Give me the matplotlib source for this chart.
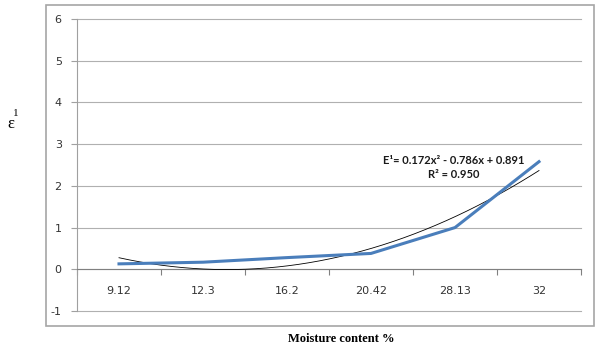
import numpy as np
import matplotlib
matplotlib.use("Agg")
import matplotlib.pyplot as plt
from matplotlib.patches import Rectangle

plt.rcParams["axes.unicode_minus"] = False

# ---- data ----
categories = ["9.12", "12.3", "16.2", "20.42", "28.13", "32"]
eps_values = [0.13, 0.17, 0.28, 0.38, 1.00, 2.58]
# Excel polynomial trendline (x = category index 1..6)
trend_coef = [0.172, -0.786, 0.891]
eq_text = "E\u00b9= 0.172x\u00b2 - 0.786x + 0.891"
r2_text = "R\u00b2 = 0.950"

W, H = 600, 349
fig = plt.figure(figsize=(W / 100, H / 100), dpi=100)

# outer chart frame
fig.patches.append(Rectangle((46 / W, 1 - 326 / H), (594 - 46) / W, (326 - 5) / H,
                             transform=fig.transFigure, fill=False,
                             edgecolor="#a6a6a6", lw=1.2))

ax = fig.add_axes([77 / W, 1 - 311 / H, (581 - 77) / W, (311 - 19) / H])
x = np.arange(len(categories))

# trendline
xt = np.linspace(0, len(categories) - 1, 200)
yt = np.polyval(trend_coef, xt + 1)
ax.plot(xt, yt, color="black", lw=0.6, zorder=3)

# data series
ax.plot(x, eps_values, color="#4a7ebb", lw=2.2, zorder=4)

ax.set_xlim(-0.5, len(categories) - 0.5)
ax.set_ylim(-1, 6)
ax.set_yticks(range(-1, 7))
ax.yaxis.grid(True, color="#b0b0b0", lw=0.8)
for gl in ax.get_ygridlines():
    gl.set_clip_on(False)
ax.set_axisbelow(True)

for s in ["top", "right"]:
    ax.spines[s].set_visible(False)
ax.spines["left"].set_color("#a0a0a0")
ax.spines["bottom"].set_position(("data", 0))
ax.spines["bottom"].set_color("#808080")

# category boundary ticks + centered labels
ax.set_xticks(np.arange(-0.5, len(categories)), labels=[""] * (len(categories) + 1))
ax.set_xticks(x, labels=categories, minor=True)
ax.tick_params(axis="x", which="major", length=4, color="#808080", direction="out")
ax.tick_params(axis="x", which="minor", length=0, pad=12, labelsize=8, labelcolor="#333333")
ax.tick_params(axis="y", length=4, color="#a0a0a0", labelsize=8, labelcolor="#333333", pad=7)

ax.text(454 / W, 1 - 161 / H, eq_text, transform=fig.transFigure, ha="center", va="center",
        family="Lato", fontsize=8, fontweight="bold", color="#1a1a1a")
ax.text(454 / W, 1 - 174 / H, r2_text, transform=fig.transFigure, ha="center", va="center",
        family="Lato", fontsize=8, fontweight="bold", color="#1a1a1a")

fig.text(341 / W, 1 - 339 / H, "Moisture content %", ha="center", va="center",
         family="Liberation Serif", fontweight="bold", fontsize=9)
fig.text(11 / W, 1 - 124 / H, "\u03b5", ha="center", va="center",
         family="Liberation Serif", fontsize=12)
fig.text(16 / W, 1 - 113 / H, "1", ha="center", va="center",
         family="Liberation Serif", fontsize=8)

fig.savefig("out.png", dpi=100)
